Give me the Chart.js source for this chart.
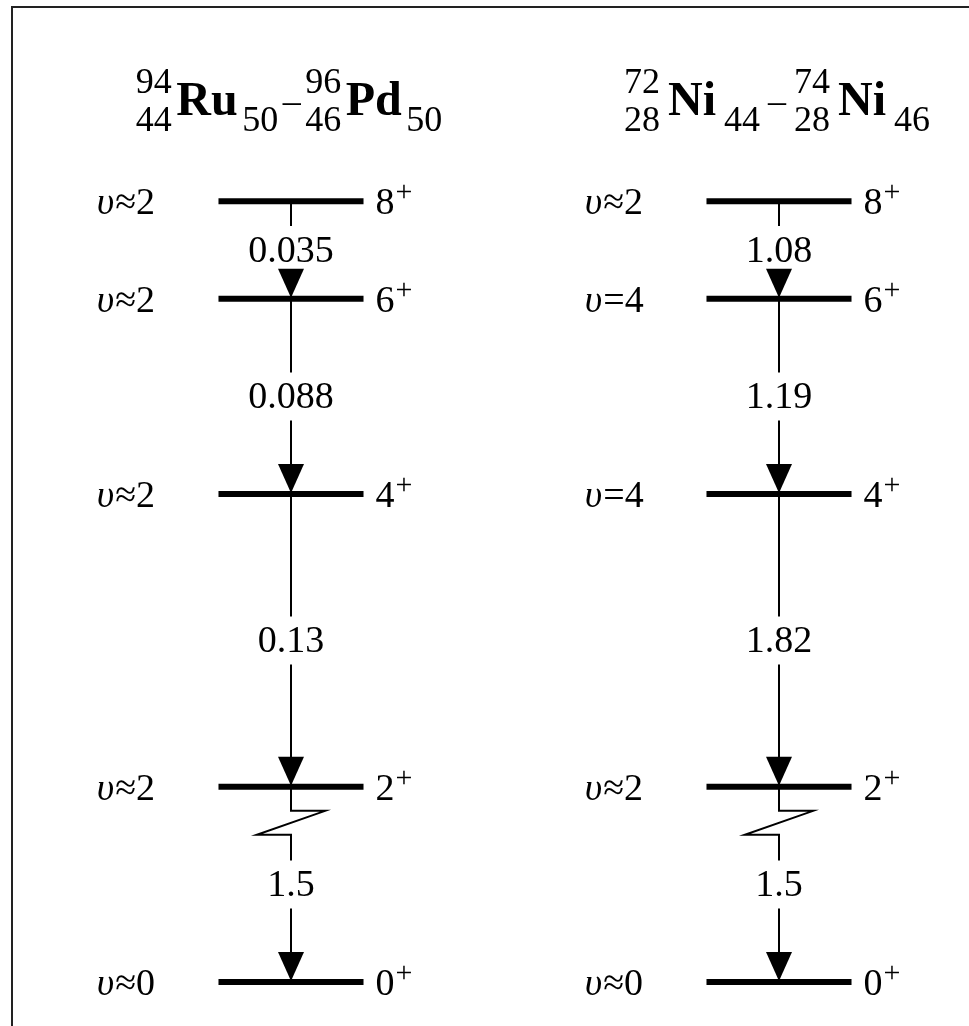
<!DOCTYPE html>
<html>
<head>
<meta charset="utf-8">
<title>Seniority level schemes</title>
<script src="https://cdn.jsdelivr.net/npm/chart.js@4.4.1/dist/chart.umd.min.js"></script>
<style>
  html, body { margin: 0; padding: 0; background: #fff; }
  #wrap { position: relative; width: 969px; height: 1026px; overflow: hidden; }
  #frame { position: absolute; left: 11px; top: 6px; right: -10px; bottom: -10px;
           border-left: 2px solid #222; border-top: 2px solid #222; }
  canvas { position: absolute; left: 0; top: 0; }
</style>
</head>
<body>
<div id="wrap">
  <div id="frame"></div>
  <canvas id="scheme" width="969" height="1026"></canvas>
</div>
<script>
// level spins (all positive parity) and schematic level heights
const spins = [0, 2, 4, 6, 8];
const levelHeights = [0, 2, 5, 7, 8];

// 94Ru-96Pd (N=50)
const ruPdSeniority = ['υ≈0', 'υ≈2', 'υ≈2', 'υ≈2', 'υ≈2'];
const ruPdBE2 = [1.5, 0.13, 0.088, 0.035];   // 2->0, 4->2, 6->4, 8->6
const ruPdA = [94, 96];
const ruPdZ = [44, 46];
const ruPdN = [50, 50];
const ruPdSymbols = ['Ru', 'Pd'];

// 72Ni-74Ni
const niSeniority = ['υ≈0', 'υ≈2', 'υ=4', 'υ=4', 'υ≈2'];
const niBE2 = [1.5, 1.82, 1.19, 1.08];
const niA = [72, 74];
const niZ = [28, 28];
const niN = [44, 46];
const niSymbols = ['Ni', 'Ni'];

const panels = [
  { col: 0, seniority: ruPdSeniority, be2: ruPdBE2, A: ruPdA, Z: ruPdZ, N: ruPdN, symbols: ruPdSymbols, gap: 4.5 },
  { col: 1, seniority: niSeniority, be2: niBE2, A: niA, Z: niZ, N: niN, symbols: niSymbols, gap: 8 }
];

const HALF = 0.1486;      // half width of a level bar (x units)
const GAP = 0.246;        // half height of the gap left for a B(E2) label (y units)
const SERIF = "'Liberation Serif', 'DejaVu Serif', serif";

const datasets = [];
panels.forEach(p => {
  // level bars
  levelHeights.forEach(h => {
    datasets.push({
      data: [{ x: p.col - HALF, y: h }, { x: p.col + HALF, y: h }],
      borderColor: '#000', borderWidth: 6, borderCapStyle: 'butt',
      showLine: true, pointRadius: 0
    });
  });
  // transitions, with a gap around the value label
  p.be2.forEach((v, i) => {
    const lo = levelHeights[i], hi = levelHeights[i + 1], mid = (lo + hi) / 2;
    let pts;
    if (i === 0) {
      // broken scale between 0+ and 2+
      pts = [
        { x: p.col, y: hi }, { x: p.col, y: hi - 0.246 },
        { x: p.col + 0.07, y: hi - 0.246 }, { x: p.col - 0.07, y: hi - 0.49 },
        { x: p.col, y: hi - 0.49 }, { x: p.col, y: mid + GAP }
      ];
    } else {
      pts = [{ x: p.col, y: hi }, { x: p.col, y: mid + GAP }];
    }
    pts.push({ x: p.col, y: null }, { x: p.col, y: mid - GAP }, { x: p.col, y: lo });
    datasets.push({
      data: pts, borderColor: '#000', borderWidth: 2, borderCapStyle: 'butt',
      showLine: true, spanGaps: false, pointRadius: 0
    });
  });
});

function drawSeniority(ctx, text, x, y) {
  ctx.textAlign = 'left';
  ctx.font = 'italic 38px ' + SERIF;
  ctx.fillText(text[0], x, y);
  const w = ctx.measureText(text[0]).width;
  ctx.font = '38px ' + SERIF;
  ctx.fillText(text.slice(1), x + w + 1, y);
}

function drawSpin(ctx, j, x, y) {
  ctx.textAlign = 'left';
  ctx.font = '38px ' + SERIF;
  ctx.fillText(String(j), x, y);
  const w = ctx.measureText(String(j)).width;
  ctx.font = '30px ' + SERIF;
  ctx.fillText('+', x + w + 1, y - 13);
}

function drawTitle(ctx, p, cx, base) {
  const big = 'bold 48px ' + SERIF, small = '36px ' + SERIF;
  const parts = [];
  [0, 1].forEach(k => {
    if (k === 1) parts.push({ type: 'dash', text: '–' });
    parts.push({ type: 'pre', top: String(p.A[k]), bot: String(p.Z[k]) });
    parts.push({ type: 'sym', text: p.symbols[k] });
    parts.push({ type: 'sub', text: String(p.N[k]) });
  });
  parts.forEach(q => {
    if (q.type === 'pre') {
      ctx.font = small;
      q.w = Math.max(ctx.measureText(q.top).width, ctx.measureText(q.bot).width);
    } else {
      ctx.font = q.type === 'sym' ? big : small;
      q.w = ctx.measureText(q.text).width;
    }
  });
  const total = parts.reduce((s, q) => s + q.w, 0) + p.gap * (parts.length - 1);
  let x = cx - total / 2;
  ctx.textAlign = 'left';
  parts.forEach(q => {
    if (q.type === 'pre') {
      ctx.font = small;
      ctx.textAlign = 'right';
      ctx.fillText(q.top, x + q.w, base - 22);
      ctx.fillText(q.bot, x + q.w, base + 16);
      ctx.textAlign = 'left';
    } else if (q.type === 'sym') {
      ctx.font = big;
      ctx.fillText(q.text, x, base);
    } else if (q.type === 'sub') {
      ctx.font = small;
      ctx.fillText(q.text, x, base + 16);
    } else {
      ctx.font = small;
      ctx.fillText(q.text, x, base - 2);
    }
    x += q.w + p.gap;
  });
}

const levelSchemeText = {
  id: 'levelSchemeText',
  afterDatasetsDraw(chart) {
    const ctx = chart.ctx;
    const xs = chart.scales.x, ys = chart.scales.y;
    ctx.save();
    ctx.fillStyle = '#000';
    ctx.textBaseline = 'alphabetic';
    panels.forEach(p => {
      const cx = xs.getPixelForValue(p.col);
      // arrowheads ending on the lower level
      p.be2.forEach((v, i) => {
        const yl = ys.getPixelForValue(levelHeights[i]);
        ctx.beginPath();
        ctx.moveTo(cx, yl - 1);
        ctx.lineTo(cx - 13, yl - 30);
        ctx.lineTo(cx + 13, yl - 30);
        ctx.closePath();
        ctx.fill();
        // B(E2) value
        const ym = ys.getPixelForValue((levelHeights[i] + levelHeights[i + 1]) / 2);
        ctx.font = '38px ' + SERIF;
        ctx.textAlign = 'center';
        ctx.fillText(String(v), cx, ym + 12);
      });
      levelHeights.forEach((h, i) => {
        const y = ys.getPixelForValue(h);
        drawSeniority(ctx, p.seniority[i], xs.getPixelForValue(p.col - 0.398), y + 13);
        drawSpin(ctx, spins[i], xs.getPixelForValue(p.col + HALF) + 12, y + 13);
      });
      drawTitle(ctx, p, cx - 2, ys.getPixelForValue(8.88));
    });
    ctx.restore();
  }
};

new Chart(document.getElementById('scheme').getContext('2d'), {
  type: 'scatter',
  data: { datasets: datasets },
  options: {
    responsive: false,
    animation: false,
    devicePixelRatio: 1,
    events: [],
    layout: { padding: { left: 22.6, right: 19.2, top: 6, bottom: 0 } },
    scales: {
      x: { type: 'linear', min: -0.55, max: 1.35, display: false },
      y: { type: 'linear', min: -0.45, max: 10, display: false }
    },
    plugins: {
      legend: { display: false },
      tooltip: { enabled: false }
    }
  },
  plugins: [levelSchemeText]
});
</script>
</body>
</html>
